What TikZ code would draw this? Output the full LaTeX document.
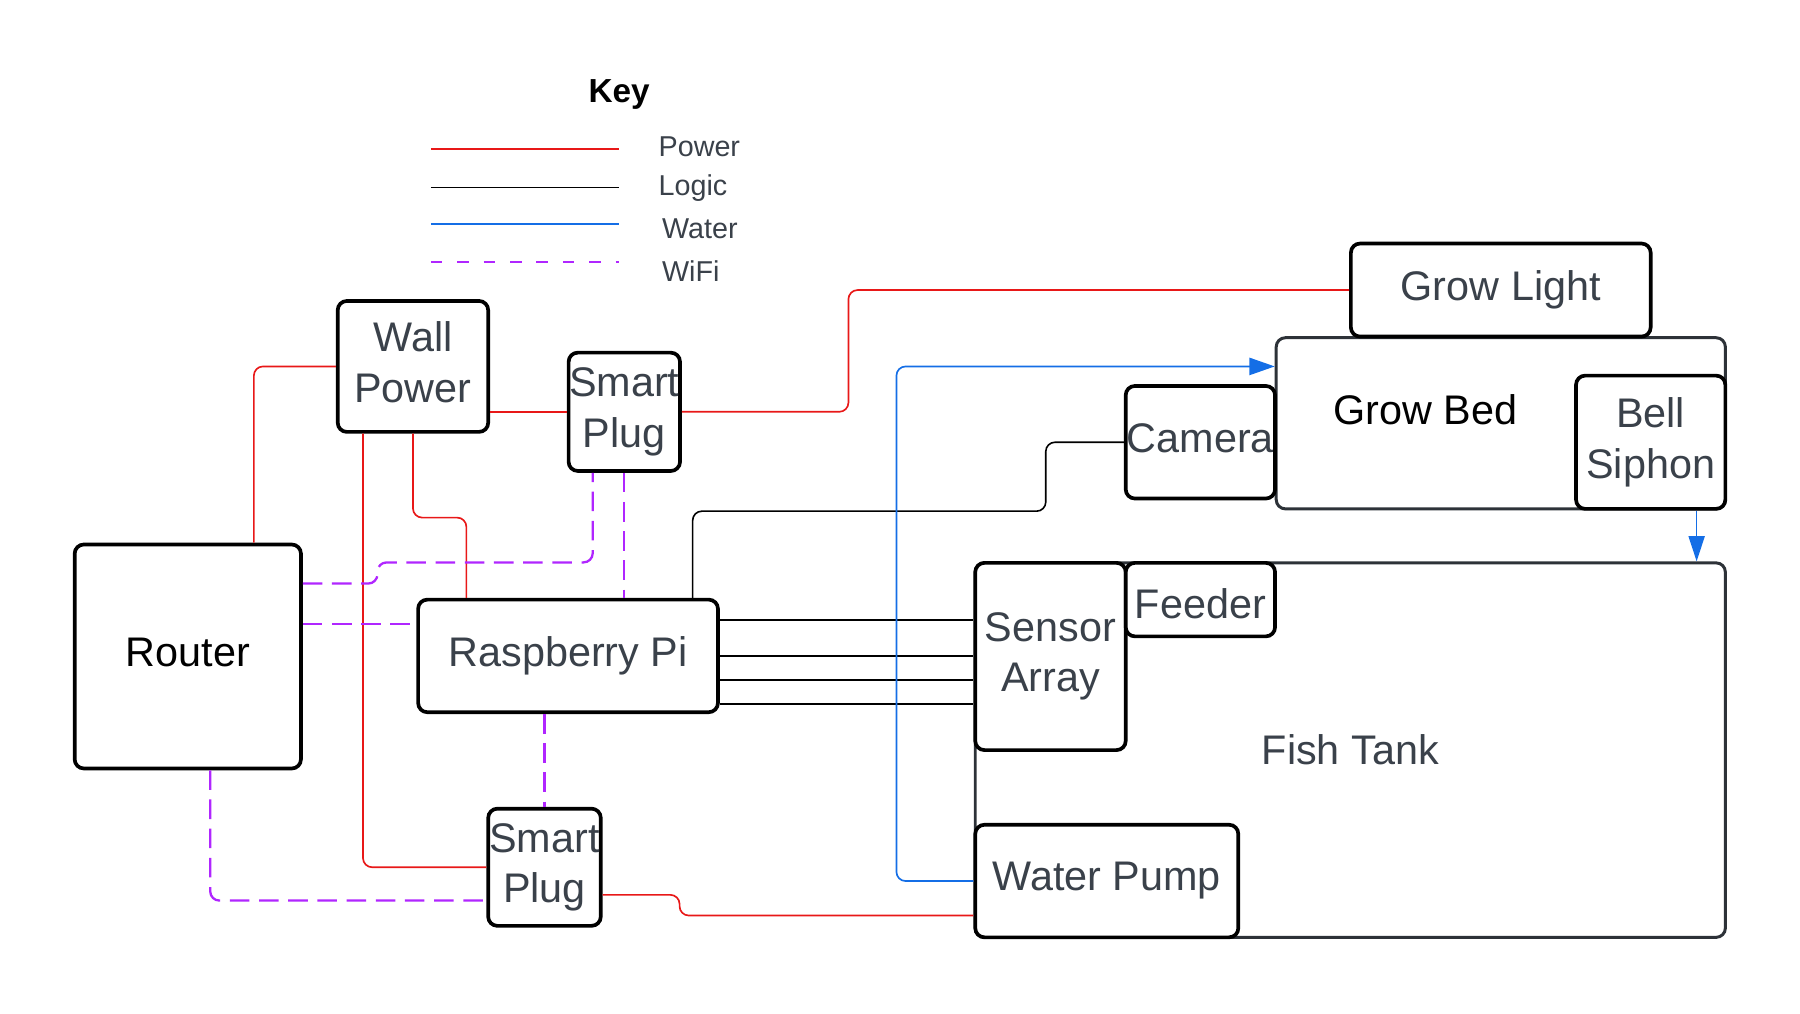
\documentclass[tikz,border=0pt]{standalone}
\usepackage{fontspec}
\setmainfont{Liberation Sans}
\usetikzlibrary{calc,arrows.meta}

\definecolor{powerred}{RGB}{232,24,24}
\definecolor{waterblue}{RGB}{20,110,230}
\definecolor{wifipurple}{RGB}{176,38,255}
\definecolor{labelgray}{RGB}{58,65,74}
\definecolor{edgegray}{RGB}{45,50,56}

\tikzset{
  boxbase/.style={draw, line width=1.6pt, rounded corners=4pt, fill=white, text=labelgray,
    inner sep=0pt, align=center, font=\fontsize{18}{22}\selectfont},
  part/.style={boxbase, execute at end node={\vphantom{gy}}},
  holder/.style={boxbase, draw=edgegray, line width=1.3pt},
  power/.style={draw=powerred, line width=0.72pt, rounded corners=4pt},
  logic/.style={draw=black, line width=0.7pt, rounded corners=4pt},
  water/.style={draw=waterblue, line width=0.72pt, rounded corners=4pt},
  wifi/.style={draw=wifipurple, line width=1pt, dash pattern=on 8.5pt off 4.2pt, rounded corners=4pt},
  keytext/.style={anchor=base west, inner sep=0pt, text=labelgray, font=\fontsize{12.5}{15}\selectfont},
}

\begin{document}
\begin{tikzpicture}[x=0.5pt,y=-0.5pt]
\useasboundingbox (0,0) rectangle (1567,882);

% key
\node[anchor=base, font=\bfseries\fontsize{14.5}{17}\selectfont] (keytitle) at (539,89) {Key};
\node[keytext] (keypower) at (573,136) {Power};
\node[keytext] (keylogic) at (573,170) {Logic};
\node[keytext] (keywater) at (576,208) {Water};
\node[keytext] (keywifi) at (576,245) {WiFi};
\draw[powerred, line width=0.75pt] (375,130) -- (539,130);
\draw[black, line width=0.5pt] (375,163) -- (539,163);
\draw[waterblue, line width=0.75pt] (375,195) -- (539,195);
\draw[wifipurple, line width=0.6pt, dash pattern=on 5pt off 6.5pt] (375,228) -- (539,228);

% tanks
\node[holder, minimum width=326.5pt, minimum height=163pt] (tank) at (1175.5,653) {Fish Tank};
\node[holder, minimum width=195.5pt, minimum height=74.5pt] (growbed) at (1306.5,368.5) {};
\node[text=black, font=\fontsize{18}{22}\selectfont] (growbedlabel) at (1241,357) {Grow Bed};

% parts
\node[part, minimum width=65.5pt, minimum height=57pt] (wallpower) at (359.5,319) {Wall\\Power};
\node[part, minimum width=48.5pt, minimum height=51.5pt] (plugtop) at (543.5,358.5) {Smart\\Plug};
\node[part, text=black, minimum width=98.5pt, minimum height=97.5pt] (router) at (163.5,571.5) {Router};
\node[part, minimum width=130.5pt, minimum height=49pt] (rpi) at (494.5,571) {Raspberry Pi};
\node[part, minimum width=49pt, minimum height=51pt] (plugbot) at (474,755) {Smart\\Plug};
\node[boxbase, minimum width=130.5pt, minimum height=40.5pt] (growlight) at (1306.5,252.5) {Grow Light};
\node[part, minimum width=65pt, minimum height=49pt] (camera) at (1045,385) {Camera};
\node[part, minimum width=65pt, minimum height=58pt] (bell) at (1437,385) {Bell\\Siphon};
\node[part, minimum width=65.5pt, minimum height=81.5pt] (sensor) at (914.5,571.5) {Sensor\\Array};
\node[boxbase, text height=16.3pt, text depth=0pt,
  minimum width=65pt, minimum height=32pt] (feeder) at (1045,522) {Feeder};
\node[part, minimum width=114.5pt, minimum height=49pt] (pump) at (963.5,767) {Water Pump};

% power
\draw[power] (wallpower.west) -| ($(router.north)+(57.5,0)$);
\draw[power] (plugtop.west -| wallpower.east) -- (plugtop.west);
\draw[power] (plugtop.east) -- ++(145,0) |- (growlight.west);
\draw[power] (wallpower.south) -- ++(0,73) -| ($(rpi.north)+(-88.5,0)$);
\draw[power] ($(wallpower.south)+(-43.5,0)$) |- (plugbot.west);
\draw[power] ($(plugbot.east)+(0,24)$) -- ++(67,0) |- ($(pump.west)+(0,30)$);

% logic
\draw[logic] ($(rpi.north)+(108.5,0)$) |- ($(camera.west)+(-68,60)$) |- (camera.west);
\foreach \dy in {-31,0,21,42}{
  \coordinate (lead) at ($(rpi.east)+(0,\dy)$);
  \draw[logic, line width=0.9pt] (lead) -- (lead -| sensor.west);
}

% water
\draw[water, -{Triangle[length=11pt,width=7.5pt]}] (pump.west) -- ++(-67,0) |- ($(growbed.west)+(0,-49.5)$);
\coordinate (drain) at ($(bell.south)+(40,0)$);
\draw[water, -{Triangle[length=11pt,width=7pt]}] (drain) -- (drain |- tank.north);

% wifi
\draw[wifi] ($(router.east)+(0,-63.5)$) -- ++(65,0) |- ($(plugtop.south)+(-27.5,78)$) -- ($(plugtop.south)+(-27.5,0)$);
\coordinate (rpiwifi) at ($(rpi.west)+(0,-28)$);
\draw[wifi] (rpiwifi -| router.east) -- (rpiwifi);
\draw[wifi] (plugtop.south) -- (plugtop.south |- rpi.north);
\draw[wifi] (rpi.south -| plugbot.north) -- (plugbot.north);
\draw[wifi] ($(router.south)+(19.5,0)$) |- ($(plugbot.west)+(0,29)$);
\end{tikzpicture}
\end{document}
